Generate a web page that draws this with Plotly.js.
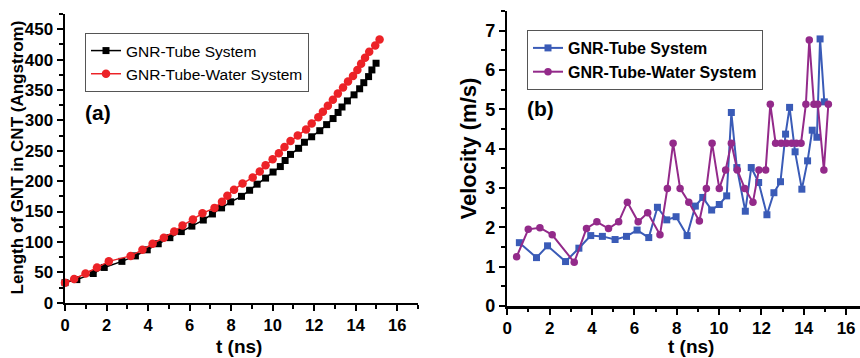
<!DOCTYPE html>
<html>
<head>
<meta charset="utf-8">
<script src="https://cdn.plot.ly/plotly-3.0.1.min.js"></script>
<style>
html, body { margin: 0; padding: 0; overflow: hidden; background: #fff; }
#plot { width: 880px; height: 358px; }
</style>
</head>
<body>
<div id="plot"></div>
<script>
// ---- Panel (a): length of GNR in CNT vs time ----
const tubeT = [0, 0.57, 1.36, 1.89, 2.74, 3.39, 3.96, 4.49, 5.05, 5.60, 6.11, 6.66, 7.10, 7.54, 7.98, 8.50, 8.89, 9.25, 9.66, 10.02, 10.37, 10.60, 10.86, 11.25, 11.53, 11.88, 12.27, 12.60, 12.91, 13.15, 13.34, 13.60, 13.92, 14.19, 14.39, 14.62, 14.78, 14.98];
const tubeLen = [33, 38, 48, 58, 68, 77, 87, 97, 107, 117, 126, 136, 146, 156, 166, 175, 185, 195, 205, 215, 224, 234, 244, 254, 264, 273, 283, 293, 303, 313, 322, 332, 342, 352, 362, 372, 383, 394];
const waterT = [0, 0.44, 0.99, 1.54, 2.11, 3.16, 3.73, 4.22, 4.76, 5.26, 5.66, 6.16, 6.62, 7.20, 7.56, 7.82, 8.14, 8.55, 9.04, 9.38, 9.66, 10.00, 10.30, 10.57, 10.86, 11.21, 11.61, 11.88, 12.20, 12.42, 12.66, 12.90, 13.14, 13.39, 13.63, 13.87, 14.08, 14.26, 14.45, 14.65, 14.94, 15.15];
const waterLen = [33, 39, 48, 58, 68, 77, 87, 97, 107, 117, 127, 137, 147, 156, 166, 176, 186, 196, 206, 216, 226, 236, 246, 256, 266, 275, 285, 295, 305, 314, 324, 334, 344, 354, 364, 373, 383, 393, 403, 413, 423, 433];

// ---- Panel (b): velocity vs time ----
const velTubeT = [0.57, 1.38, 1.90, 2.75, 3.38, 3.94, 4.49, 5.09, 5.63, 6.13, 6.68, 7.09, 7.53, 7.97, 8.49, 8.88, 9.23, 9.65, 10.01, 10.36, 10.58, 10.84, 11.24, 11.52, 11.87, 12.26, 12.59, 12.90, 13.14, 13.33, 13.59, 13.91, 14.18, 14.40, 14.62, 14.77, 14.97];
const velTube = [1.61, 1.23, 1.53, 1.13, 1.47, 1.79, 1.77, 1.69, 1.77, 1.93, 1.74, 2.51, 2.19, 2.27, 1.79, 2.54, 2.76, 2.44, 2.58, 2.80, 4.92, 3.52, 2.41, 3.52, 3.14, 2.32, 2.88, 3.16, 4.37, 5.05, 3.92, 2.97, 3.69, 4.47, 4.29, 6.79, 5.19];
const velWaterT = [0.44, 0.99, 1.54, 2.12, 3.16, 3.74, 4.23, 4.78, 5.26, 5.67, 6.18, 6.63, 7.21, 7.56, 7.83, 8.16, 8.57, 9.07, 9.40, 9.67, 10.01, 10.31, 10.58, 10.86, 11.21, 11.60, 11.88, 12.20, 12.42, 12.67, 12.93, 13.18, 13.43, 13.65, 13.87, 14.10, 14.26, 14.48, 14.66, 14.95, 15.16];
const velWater = [1.25, 1.95, 1.99, 1.81, 1.11, 1.97, 2.14, 1.97, 2.14, 2.64, 2.14, 2.37, 1.81, 2.99, 4.14, 2.99, 2.64, 2.16, 2.99, 4.14, 2.99, 3.46, 4.14, 3.46, 2.99, 2.64, 3.46, 3.46, 5.13, 4.14, 4.14, 4.14, 4.14, 4.14, 4.14, 5.13, 6.76, 5.13, 5.13, 3.46, 5.13];

const seriesNames = ['GNR-Tube System', 'GNR-Tube-Water System'];
const xTitle = 't (ns)';
const yTitleA = 'Length of GNT in CNT (Angstrom)';
const yTitleB = 'Velocity (m/s)';

const FONT = 'Liberation Sans, Arial, Helvetica, sans-serif';
const W = 880, H = 358;
const px = v => v / W;
const py = v => 1 - v / H;

const traces = [
  { x: tubeT, y: tubeLen, name: seriesNames[0], type: 'scatter', mode: 'lines+markers',
    xaxis: 'x', yaxis: 'y', legend: 'legend', cliponaxis: false,
    line: { color: '#000000', width: 1.5 }, marker: { symbol: 'square', size: 7, color: '#000000' } },
  { x: waterT, y: waterLen, name: seriesNames[1], type: 'scatter', mode: 'lines+markers',
    xaxis: 'x', yaxis: 'y', legend: 'legend', cliponaxis: false,
    line: { color: '#ec2227', width: 1.5 }, marker: { symbol: 'circle', size: 8.5, color: '#ec2227' } },
  { x: velTubeT, y: velTube, name: seriesNames[0], type: 'scatter', mode: 'lines+markers',
    xaxis: 'x2', yaxis: 'y2', legend: 'legend2', cliponaxis: false,
    line: { color: '#3a5bb7', width: 2 }, marker: { symbol: 'square', size: 7, color: '#3a5bb7' } },
  { x: velWaterT, y: velWater, name: seriesNames[1], type: 'scatter', mode: 'lines+markers',
    xaxis: 'x2', yaxis: 'y2', legend: 'legend2', cliponaxis: false,
    line: { color: '#932a8a', width: 2 }, marker: { symbol: 'circle', size: 7.5, color: '#932a8a' } }
];

function ax(extra, fontSize) {
  return Object.assign({
    showline: true, linecolor: '#000', linewidth: 2.5,
    ticks: 'outside', ticklen: 6, tickwidth: 2, tickcolor: '#000',
    showgrid: false, zeroline: false, fixedrange: true,
    tickfont: { family: FONT, size: fontSize || 16, color: '#000', weight: 700 }
  }, extra);
}
function mirrorAx(extra) {
  return Object.assign({
    showline: true, linecolor: '#000', linewidth: 2.5,
    ticks: 'inside', ticklen: 6, tickwidth: 2, tickcolor: '#000',
    showgrid: false, zeroline: false, showticklabels: false, fixedrange: true
  }, extra);
}

const domXA = [px(65), px(418)];
const domYA = [55.3 / H, 344 / H];
const domXB = [px(507.3), px(867.3)];
const domYB = [52 / H, 347 / H];

const layout = {
  width: W, height: H,
  margin: { l: 0, r: 0, t: 0, b: 0 },
  paper_bgcolor: '#fff', plot_bgcolor: 'rgba(0,0,0,0)',
  font: { family: FONT, color: '#000' },
  xaxis: ax({ domain: domXA, range: [0, 17], anchor: 'y', tick0: 0, dtick: 2,
    minor: { dtick: 1, ticks: 'outside', ticklen: 3.5, tickwidth: 2, tickcolor: '#000' } }, 16.5),
  yaxis: ax({ domain: domYA, range: [0, 475], anchor: 'x', tick0: 0, dtick: 50,
    minor: { dtick: 25, ticks: 'outside', ticklen: 3.5, tickwidth: 2, tickcolor: '#000' } }, 17),
  xaxis3: mirrorAx({ overlaying: 'x', side: 'top', anchor: 'y', domain: domXA, range: [0, 17], tick0: 0, dtick: 2,
    minor: { dtick: 1, ticks: 'inside', ticklen: 3.5, tickwidth: 2, tickcolor: '#000' } }),
  yaxis3: mirrorAx({ overlaying: 'y', side: 'right', anchor: 'x', domain: domYA, range: [0, 475], tick0: 0, dtick: 50,
    minor: { dtick: 25, ticks: 'inside', ticklen: 3.5, tickwidth: 2, tickcolor: '#000' } }),
  xaxis2: ax({ domain: domXB, range: [0, 17], anchor: 'y2', tick0: 0, dtick: 2, ticklabelstandoff: -1,
    minor: { dtick: 1, ticks: 'outside', ticklen: 3.5, tickwidth: 2, tickcolor: '#000' } }, 17),
  yaxis2: ax({ domain: domYB, range: [0, 7.5], anchor: 'x2', tick0: 0, dtick: 1,
    minor: { dtick: 0.5, ticks: 'outside', ticklen: 3.5, tickwidth: 2, tickcolor: '#000' } }, 18),
  xaxis4: mirrorAx({ overlaying: 'x2', side: 'top', anchor: 'y2', domain: domXB, range: [0, 17], tick0: 0, dtick: 2,
    minor: { dtick: 1, ticks: 'inside', ticklen: 3.5, tickwidth: 2, tickcolor: '#000' } }),
  yaxis4: mirrorAx({ overlaying: 'y2', side: 'right', anchor: 'x2', domain: domYB, range: [0, 7.5], tick0: 0, dtick: 1,
    minor: { dtick: 0.5, ticks: 'inside', ticklen: 3.5, tickwidth: 2, tickcolor: '#000' } }),
  showlegend: true,
  legend: { x: px(85), y: py(33), xanchor: 'left', yanchor: 'top',
    bgcolor: '#fff', bordercolor: '#555', borderwidth: 1,
    font: { family: FONT, size: 15.5, color: '#000' }, itemwidth: 30, tracegroupgap: 0 },
  legend2: { x: px(527), y: py(30), xanchor: 'left', yanchor: 'top',
    bgcolor: '#fff', bordercolor: '#555', borderwidth: 1,
    font: { family: FONT, size: 16, color: '#000', weight: 700 }, itemwidth: 30, tracegroupgap: 0 },
  annotations: [
    { text: '(a)', x: px(98), y: py(112), xref: 'paper', yref: 'paper', showarrow: false,
      xanchor: 'center', yanchor: 'middle', font: { family: FONT, size: 21, weight: 700, color: '#000' } },
    { text: '(b)', x: px(540), y: py(108), xref: 'paper', yref: 'paper', showarrow: false,
      xanchor: 'center', yanchor: 'middle', font: { family: FONT, size: 21, weight: 700, color: '#000' } },
    { text: yTitleA, x: px(17.5), y: py(158), xref: 'paper', yref: 'paper', showarrow: false, textangle: -90,
      xanchor: 'center', yanchor: 'middle', font: { family: FONT, size: 17, weight: 700, color: '#000' } },
    { text: xTitle, x: px(239), y: py(346), xref: 'paper', yref: 'paper', showarrow: false,
      xanchor: 'center', yanchor: 'middle', font: { family: FONT, size: 19, weight: 700, color: '#000' } },
    { text: yTitleB, x: px(468), y: py(148.5), xref: 'paper', yref: 'paper', showarrow: false, textangle: -90,
      xanchor: 'center', yanchor: 'middle', font: { family: FONT, size: 22, weight: 700, color: '#000' } },
    { text: xTitle, x: px(691), y: py(346.5), xref: 'paper', yref: 'paper', showarrow: false,
      xanchor: 'center', yanchor: 'middle', font: { family: FONT, size: 19, weight: 700, color: '#000' } }
  ]
};

Plotly.newPlot('plot', traces, layout, { displayModeBar: false, staticPlot: true });
</script>
</body>
</html>
